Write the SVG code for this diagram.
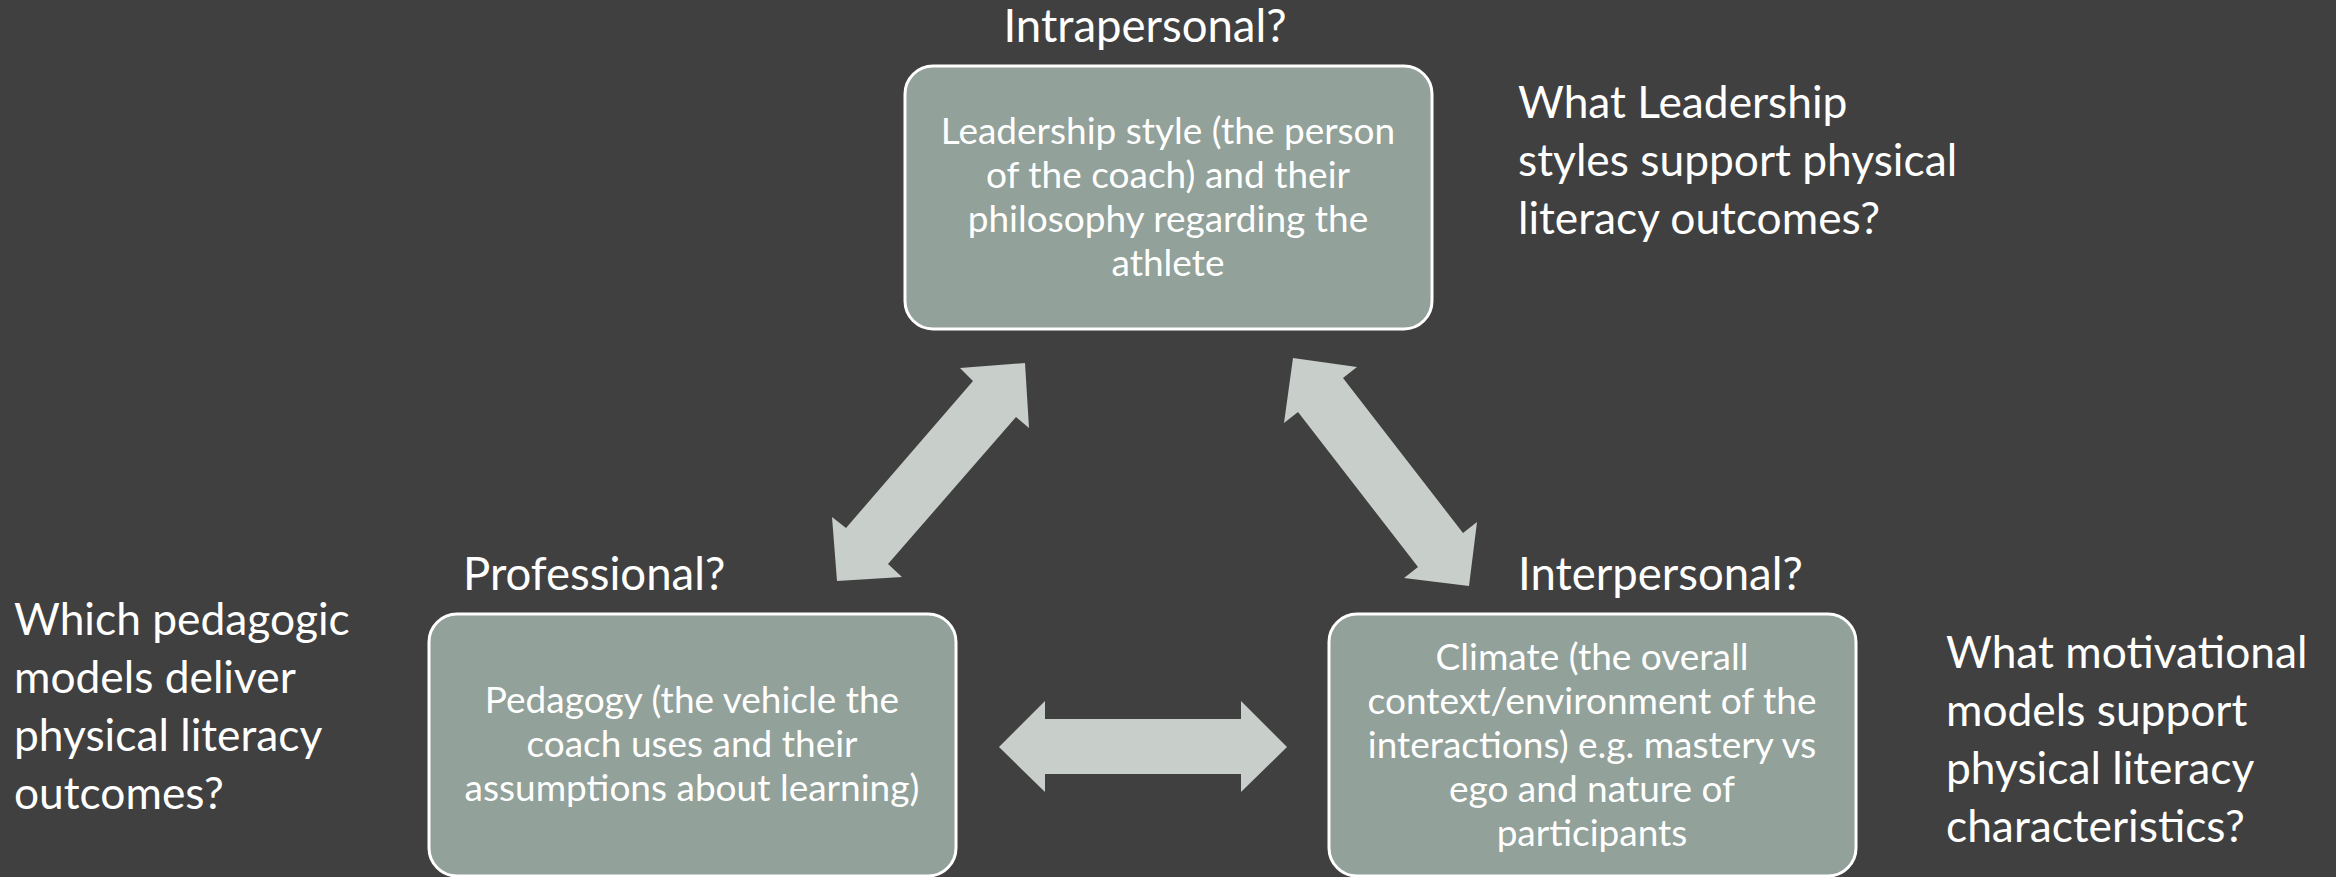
<svg xmlns="http://www.w3.org/2000/svg" width="2336" height="877" viewBox="0 0 2336 877">
  <style>
    .box { fill: #92a199; stroke: #ffffff; stroke-width: 3; }
    .boxtext { font-family: Lato, "Open Sans", sans-serif; font-size: 37px; fill: #ffffff; text-anchor: middle; }
    .label { font-family: Lato, "Open Sans", sans-serif; font-size: 45.5px; fill: #ffffff; }
    .note { font-family: Lato, "Open Sans", sans-serif; font-size: 44.3px; fill: #ffffff; }
    .arrow { fill: #c8cec9; }
  </style>
  <rect width="2336" height="877" fill="#404040"/>

  <!-- two-way connectors between the three areas -->
  <g id="connectors">
    <polygon class="arrow" points="1025,363 1029,428 1016,417 888,564 902,577 837,581 832,517 846,528 973,381 960,368"/>
    <polygon class="arrow" points="1293,358 1357,367 1343,378 1463,533 1477,522 1469,586 1404,578 1418,567 1298,412 1284,423"/>
    <polygon class="arrow" points="999,747 1045,701 1045,719 1241,719 1241,701 1287,747 1241,792 1241,774 1045,774 1045,792"/>
  </g>

  <!-- top: intrapersonal -->
  <g id="intrapersonal">
    <text class="label" x="1145" y="42" text-anchor="middle">Intrapersonal?</text>
    <rect class="box" x="905" y="66" width="527" height="263" rx="28"/>
    <text class="boxtext" x="1168" y="144">Leadership style (the person</text>
    <text class="boxtext" x="1168" y="188">of the coach) and their</text>
    <text class="boxtext" x="1168" y="232">philosophy regarding the</text>
    <text class="boxtext" x="1168" y="276">athlete</text>
  </g>

  <!-- bottom left: professional -->
  <g id="professional">
    <text class="label" x="463" y="590">Professional?</text>
    <rect class="box" x="429" y="614" width="527" height="262" rx="28"/>
    <text class="boxtext" x="692" y="713">Pedagogy (the vehicle the</text>
    <text class="boxtext" x="692" y="757">coach uses and their</text>
    <text class="boxtext" x="692" y="801">assumptions about learning)</text>
  </g>

  <!-- bottom right: interpersonal -->
  <g id="interpersonal">
    <text class="label" x="1518" y="590">Interpersonal?</text>
    <rect class="box" x="1329" y="614" width="527" height="262" rx="28"/>
    <text class="boxtext" x="1592" y="670">Climate (the overall</text>
    <text class="boxtext" x="1592" y="714">context/environment of the</text>
    <text class="boxtext" x="1592" y="758">interactions) e.g. mastery vs</text>
    <text class="boxtext" x="1592" y="802">ego and nature of</text>
    <text class="boxtext" x="1592" y="846">participants</text>
  </g>

  <!-- guiding questions -->
  <g id="q-leadership">
    <text class="note" x="1518" y="118">What Leadership</text>
    <text class="note" x="1518" y="176">styles support physical</text>
    <text class="note" x="1518" y="234">literacy outcomes?</text>
  </g>
  <g id="q-pedagogy">
    <text class="note" x="14" y="635">Which pedagogic</text>
    <text class="note" x="14" y="693">models deliver</text>
    <text class="note" x="14" y="751">physical literacy</text>
    <text class="note" x="14" y="809">outcomes?</text>
  </g>
  <g id="q-motivation">
    <text class="note" x="1946" y="668">What motivational</text>
    <text class="note" x="1946" y="726">models support</text>
    <text class="note" x="1946" y="784">physical literacy</text>
    <text class="note" x="1946" y="842">characteristics?</text>
  </g>
</svg>
